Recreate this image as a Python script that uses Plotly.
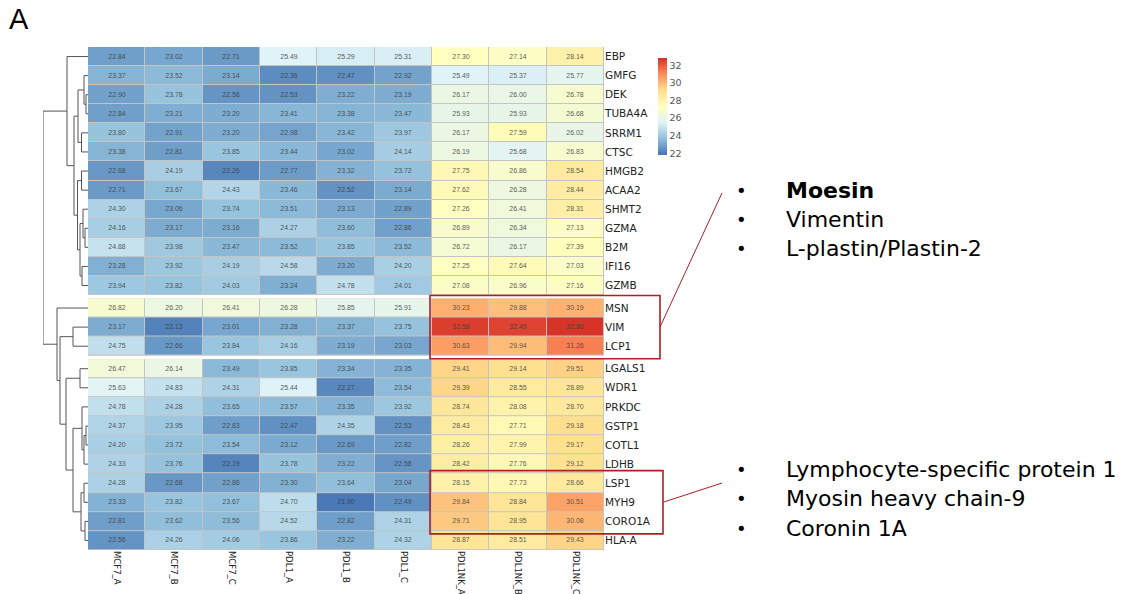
import plotly.graph_objects as go

# ---------------- data ----------------
samples = ["MCF7_A", "MCF7_B", "MCF7_C", "PDL1_A", "PDL1_B", "PDL1_C",
           "PDL1NK_A", "PDL1NK_B", "PDL1NK_C"]

genes = ["EBP", "GMFG", "DEK", "TUBA4A", "SRRM1", "CTSC", "HMGB2", "ACAA2",
         "SHMT2", "GZMA", "B2M", "IFI16", "GZMB",
         "MSN", "VIM", "LCP1",
         "LGALS1", "WDR1", "PRKDC", "GSTP1", "COTL1", "LDHB", "LSP1", "MYH9",
         "CORO1A", "HLA-A"]

values = [
    [22.84, 23.02, 22.71, 25.49, 25.29, 25.31, 27.30, 27.14, 28.14],
    [23.37, 23.52, 23.14, 22.36, 22.47, 22.92, 25.49, 25.37, 25.77],
    [22.90, 23.78, 22.58, 22.53, 23.22, 23.19, 26.17, 26.00, 26.78],
    [22.84, 23.21, 23.20, 23.41, 23.38, 23.47, 25.93, 25.93, 26.68],
    [23.80, 22.91, 23.20, 22.98, 23.42, 23.97, 26.17, 27.59, 26.02],
    [23.38, 22.81, 23.85, 23.44, 23.02, 24.14, 26.19, 25.68, 26.83],
    [22.68, 24.19, 22.26, 22.77, 23.32, 23.72, 27.75, 26.86, 28.54],
    [22.71, 23.67, 24.43, 23.46, 22.52, 23.14, 27.62, 26.28, 28.44],
    [24.30, 23.06, 23.74, 23.51, 23.13, 22.89, 27.26, 26.41, 28.31],
    [24.16, 23.17, 23.16, 24.27, 23.60, 22.86, 26.89, 26.34, 27.13],
    [24.88, 23.98, 23.47, 23.52, 23.85, 23.52, 26.72, 26.17, 27.39],
    [23.28, 23.92, 24.19, 24.58, 23.20, 24.20, 27.25, 27.64, 27.03],
    [23.94, 23.82, 24.03, 23.24, 24.78, 24.01, 27.08, 26.96, 27.16],
    [26.82, 26.20, 26.41, 26.28, 25.85, 25.91, 30.23, 29.88, 30.19],
    [23.17, 22.13, 23.01, 23.28, 23.37, 23.75, 32.58, 32.49, 32.80],
    [24.75, 22.66, 23.84, 24.16, 23.19, 23.03, 30.63, 29.94, 31.26],
    [26.47, 26.14, 23.49, 23.85, 23.34, 23.35, 29.41, 29.14, 29.51],
    [25.63, 24.83, 24.31, 25.44, 22.27, 23.54, 29.39, 28.55, 28.89],
    [24.78, 24.28, 23.65, 23.57, 23.35, 23.92, 28.74, 28.08, 28.70],
    [24.37, 23.95, 22.83, 22.47, 24.35, 22.53, 28.43, 27.71, 29.18],
    [24.20, 23.72, 23.54, 23.12, 22.69, 22.82, 28.26, 27.99, 29.17],
    [24.33, 23.76, 22.19, 23.78, 23.22, 22.58, 28.42, 27.76, 29.12],
    [24.28, 22.68, 22.86, 23.30, 23.64, 23.04, 28.15, 27.73, 28.66],
    [23.33, 23.82, 23.67, 24.70, 21.90, 22.49, 29.84, 28.84, 30.51],
    [22.81, 23.62, 23.56, 24.52, 22.82, 24.31, 29.71, 28.95, 30.08],
    [22.56, 24.26, 24.06, 23.86, 23.22, 24.32, 28.87, 28.51, 29.43],
]

# row blocks (cut of the row tree into 3 groups)
block_sizes = [13, 3, 10]

# row dendrogram: (child_a, child_b, height); leaves 0..25, new nodes 26..
dendro_merges = [
    (2, 3, 2), (1, 26, 4), (4, 5, 6.5), (27, 28, 10),
    (6, 7, 6.5), (9, 10, 3), (8, 31, 5), (11, 12, 6), (32, 33, 8),
    (30, 34, 10.5), (29, 35, 14), (0, 36, 21),
    (14, 15, 15), (16, 17, 8), (19, 20, 2), (40, 21, 4), (18, 41, 6),
    (22, 23, 4), (24, 25, 3), (43, 44, 7), (42, 45, 15), (39, 46, 22),
    (38, 47, 28), (13, 48, 31), (37, 49, 45),
]

legend_ticks = [22, 24, 26, 28, 30, 32]
color_min, color_max = 21.8, 32.85

callout_top = ["<b>Moesin</b>", "Vimentin", "L-plastin/Plastin-2"]
callout_bottom = ["Lymphocyte-specific protein 1", "Myosin heavy chain-9", "Coronin 1A"]

# ---------------- layout geometry ----------------
W, H = 1127, 594
HM_L, HM_R, HM_T, HM_B = 88, 604, 47, 550
DEN_L = 43
GAP = 0.18
n_rows = len(genes)
n_cols = len(samples)
y_total = n_rows + GAP * (len(block_sizes) - 1)

def px_x(p):
    return p / W

def px_y(p):
    return 1 - p / H

def col_px(c):
    return HM_L + (c + 0.5) * (HM_R - HM_L) / n_cols

def row_px(r):
    return HM_T + r * (HM_B - HM_T) / y_total

row_y = []
bounds = []
idx = 0
for b, size in enumerate(block_sizes):
    start = idx + GAP * b
    bounds.append((start, start + size))
    for k in range(size):
        row_y.append(start + k + 0.5)
    idx += size

colorscale = [[0, "#4575B4"], [1 / 6, "#91BFDB"], [2 / 6, "#E0F3F8"],
              [3 / 6, "#FFFFBF"], [4 / 6, "#FEE090"], [5 / 6, "#FC8D59"],
              [1, "#D73027"]]

fig = go.Figure()

idx = 0
for size in block_sizes:
    z = values[idx:idx + size]
    fig.add_trace(go.Heatmap(
        z=z, x=list(range(n_cols)), y=row_y[idx:idx + size],
        coloraxis="coloraxis", xgap=1, ygap=1,
        texttemplate="%{z:.2f}",
        textfont=dict(size=7, color="rgba(60,60,60,0.85)", family="Liberation Sans"),
        hoverinfo="skip", showscale=False))
    idx += size

# dendrogram
node_h = {i: 0.0 for i in range(n_rows)}
node_y = {i: row_y[i] for i in range(n_rows)}
dx, dy = [], []
for k, (a, b, h) in enumerate(dendro_merges):
    nid = n_rows + k
    dx += [node_h[a], h, h, node_h[b], None]
    dy += [node_y[a], node_y[a], node_y[b], node_y[b], None]
    node_h[nid] = h
    node_y[nid] = (node_y[a] + node_y[b]) / 2
root_h = max(m[2] for m in dendro_merges)
fig.add_trace(go.Scatter(x=dx, y=dy, xaxis="x2", yaxis="y", mode="lines",
                         line=dict(color="#555555", width=1), hoverinfo="skip",
                         showlegend=False))

shapes = []
for s0, e0 in bounds:
    shapes.append(dict(type="rect", xref="x", yref="y", x0=-0.5, x1=n_cols - 0.5,
                       y0=s0, y1=e0, fillcolor="#C4C4C4", line_width=0, layer="below"))

box_color = "#B01E23"
box_rows = [(genes.index("MSN"), genes.index("LCP1")),
            (genes.index("LSP1"), genes.index("CORO1A"))]
box_right = [660, 663]
anchor_text_y = [193, 483]
box_px = []
for (r0, r1), xr in zip(box_rows, box_right):
    x0 = col_px(5.5) - 2
    y0 = row_px(row_y[r0] - 0.5) - 3
    y1 = row_px(row_y[r1] + 0.5) + 3
    box_px.append((x0, y0, xr, y1))
    shapes.append(dict(type="rect", xref="paper", yref="paper",
                       x0=px_x(x0), x1=px_x(xr), y0=px_y(y0), y1=px_y(y1),
                       line=dict(color=box_color, width=1.6)))
for (x0, y0, x1, y1), ty in zip(box_px, anchor_text_y):
    shapes.append(dict(type="line", xref="paper", yref="paper",
                       x0=px_x(x1), y0=px_y((y0 + y1) / 2),
                       x1=px_x(722), y1=px_y(ty),
                       line=dict(color=box_color, width=1)))

annotations = [dict(text="A", x=px_x(7), y=px_y(19), xref="paper", yref="paper",
                    xanchor="left", yanchor="middle", showarrow=False,
                    font=dict(size=29, color="black", family="Liberation Sans"))]

def add_bullets(items, y_start):
    for i, t in enumerate(items):
        yy = y_start + i * 29.5
        annotations.append(dict(text="•", x=px_x(734), y=px_y(yy), xref="paper",
                                yref="paper", xanchor="left", yanchor="middle",
                                showarrow=False,
                                font=dict(size=18, color="black", family="DejaVu Sans")))
        annotations.append(dict(text=t, x=px_x(784), y=px_y(yy), xref="paper",
                                yref="paper", xanchor="left", yanchor="middle",
                                showarrow=False,
                                font=dict(size=22, color="black", family="DejaVu Sans")))

add_bullets(callout_top, 190)
add_bullets(callout_bottom, 469)

fig.update_layout(
    width=W, height=H, margin=dict(l=0, r=0, t=0, b=0),
    paper_bgcolor="white", plot_bgcolor="white",
    showlegend=False,
    coloraxis=dict(
        colorscale=colorscale, cmin=color_min, cmax=color_max,
        colorbar=dict(x=px_x(648), xanchor="left", y=px_y(48), yanchor="top",
                      len=(165 - 48) / H, lenmode="fraction", thickness=9,
                      outlinewidth=0, tickvals=legend_ticks, ticks="",
                      tickfont=dict(size=9.5, color="#555", family="DejaVu Sans"))),
    xaxis=dict(domain=[px_x(HM_L), px_x(HM_R)], range=[-0.5, n_cols - 0.5],
               tickvals=list(range(n_cols)), ticktext=samples, tickangle=90,
               showgrid=False, zeroline=False, showline=False, ticks="",
               tickfont=dict(size=8.5, color="#222", family="DejaVu Sans"),
               anchor="y"),
    yaxis=dict(domain=[px_y(HM_B), px_y(HM_T)], range=[y_total, 0],
               tickvals=row_y, ticktext=genes, side="right",
               showgrid=False, zeroline=False, showline=False, ticks="",
               tickfont=dict(size=10.5, color="#222", family="DejaVu Sans"),
               anchor="x"),
    xaxis2=dict(domain=[px_x(DEN_L), px_x(HM_L)], range=[root_h, 0],
                visible=False, anchor="y", showgrid=False, zeroline=False),
    shapes=shapes, annotations=annotations,
)

fig.write_html("out.html", config={"displayModeBar": False},
               post_script="document.body.style.margin='0px';")
